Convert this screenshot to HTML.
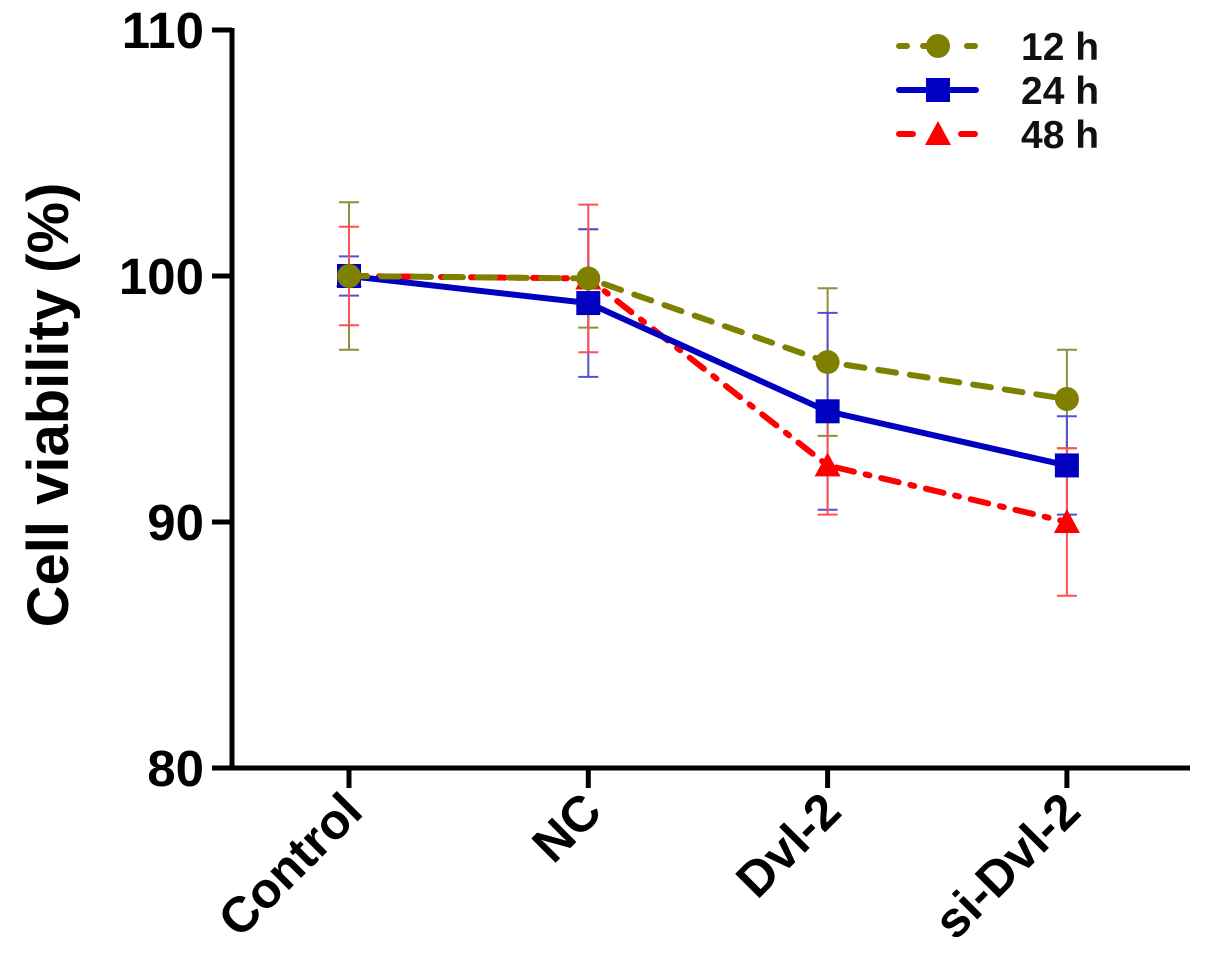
<!DOCTYPE html>
<html><head><meta charset="utf-8"><style>
body{margin:0;background:#fff;}
svg{display:block;font-family:"Liberation Sans",Arial,sans-serif;font-weight:bold;}
</style></head><body>
<svg id="chart" width="1205" height="960" viewBox="0 0 1205 960" xmlns="http://www.w3.org/2000/svg">
<g id="axes"></g><g id="errs"></g><g id="lines"></g><g id="legend"></g>
</svg>
<script>
const categories = ["Control","NC","Dvl-2","si-Dvl-2"];
const seriesNames = ["12 h","24 h","48 h"];
const values12 = [100, 99.9, 96.5, 95.0];
const err12 = [3, 2, 3, 2];
const values24 = [100, 98.9, 94.5, 92.3];
const err24 = [0.8, 3, 4, 2];
const values48 = [100, 99.9, 92.3, 90.0];
const err48 = [2, 3, 2, 3];
const yTicks = [80, 90, 100, 110];

const NS="http://www.w3.org/2000/svg";
const x0=232, y0=768, yTop=30, xFirst=349, xStep=239.3;
function yS(v){return y0-(v-80)/(110-80)*(y0-yTop);}
function xS(i){return xFirst+i*xStep;}
function mk(tag,attrs,parent){const e=document.createElementNS(NS,tag);for(const k in attrs)e.setAttribute(k,attrs[k]);parent.appendChild(e);return e;}
const axes=document.getElementById('axes'),errs=document.getElementById('errs'),lines=document.getElementById('lines'),legend=document.getElementById('legend');

let e=mk('line',{x1:x0,y1:yTop-2,x2:x0,y2:y0+2.5,stroke:'#000','stroke-width':5},axes);

e=mk('line',{x1:x0-2.5,y1:y0,x2:1190,y2:y0,stroke:'#000','stroke-width':5},axes);

yTicks.forEach(t=>{
  const tk=mk('line',{x1:x0-20,y1:yS(t),x2:x0,y2:yS(t),stroke:'#000','stroke-width':5},axes);
  
  const tx=mk('text',{x:204,y:yS(t)+18,'text-anchor':'end','font-size':51},axes);tx.textContent=t;
  
});
categories.forEach((c,i)=>{
  const tk=mk('line',{x1:xS(i),y1:y0,x2:xS(i),y2:y0+20,stroke:'#000','stroke-width':5},axes);
  
  const tx=mk('text',{x:0,y:0,'text-anchor':'end','font-size':50,transform:`translate(${xS(i)+16},${y0+46}) rotate(-45)`},axes);tx.textContent=c;
  
});
e=mk('text',{x:0,y:0,'text-anchor':'middle','font-size':58,transform:'translate(68,405) rotate(-90)'},axes);
e.textContent='Cell viability (%)';


const series=[
 {name:seriesNames[0],vals:values12,errs:err12,color:'#808000',dash:'18,14',marker:'circle',ecol:'#8f8f3a'},
 {name:seriesNames[1],vals:values24,errs:err24,color:'#0000c0',dash:'',marker:'square',ecol:'#5050d8'},
 {name:seriesNames[2],vals:values48,errs:err48,color:'#ff0000',dash:'18,12,4,12',marker:'triangle',ecol:'#ff5050'}
];
function marker(s,x,y,parent){
  let m;
  if(s.marker==='circle')m=mk('circle',{cx:x,cy:y,r:12,fill:s.color},parent);
  else if(s.marker==='square')m=mk('rect',{x:x-12,y:y-12,width:24,height:24,fill:s.color},parent);
  else m=mk('polygon',{points:`${x},${y-13} ${x+13},${y+11} ${x-13},${y+11}`,fill:s.color},parent);
  return m;
}
series.forEach(s=>{
  s.vals.forEach((v,i)=>{
    const x=xS(i),yt=yS(v+s.errs[i]),yb=yS(v-s.errs[i]);
    const g=mk('g',{stroke:s.ecol,'stroke-width':2},errs);
    
    mk('line',{x1:x,y1:yt,x2:x,y2:yb},g);
    mk('line',{x1:x-10,y1:yt,x2:x+10,y2:yt},g);
    mk('line',{x1:x-10,y1:yb,x2:x+10,y2:yb},g);
  });
});
series.slice().reverse().forEach(s=>{
  const pts=s.vals.map((v,i)=>xS(i)+','+yS(v)).join(' ');
  const pl=mk('polyline',{points:pts,fill:'none',stroke:s.color,'stroke-width':6,'stroke-dasharray':s.dash,'stroke-linecap':s.dash?'round':'butt'},lines);
  
  s.vals.forEach((v,i)=>{
    const m=marker(s,xS(i),yS(v),lines);
    
  });
});
series.forEach((s,k)=>{
  const y=46+k*44;
  const g=mk('g',{},legend);
  
  mk('line',{x1:899,y1:y,x2:976,y2:y,stroke:s.color,'stroke-width':6,'stroke-dasharray':s.dash?(k===0?'8,16,4,40':'14,48'):'','stroke-linecap':'round'},g);
  marker(s,938,y,g);
  const t=mk('text',{x:1021,y:y+14,'font-size':39,fill:'#111'},g);t.textContent=s.name;
});
</script>
</body></html>
